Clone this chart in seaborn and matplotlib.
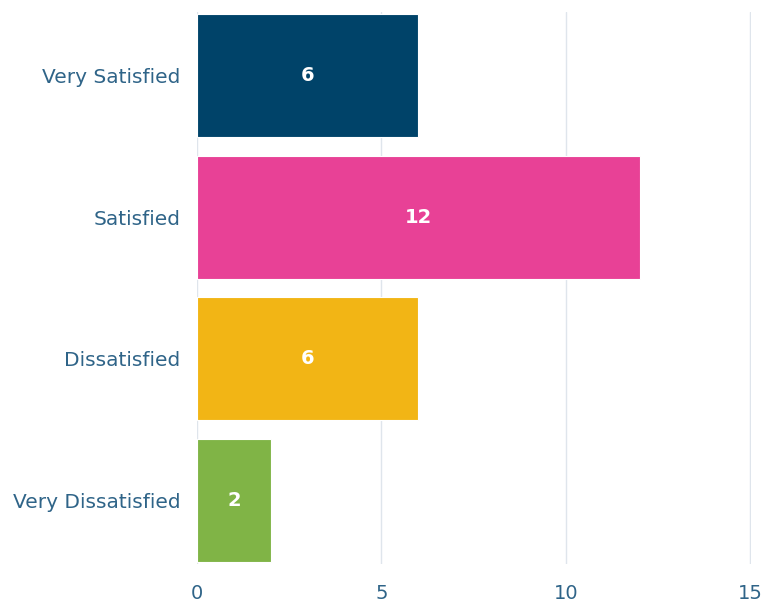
import matplotlib
matplotlib.use("Agg")
import matplotlib.pyplot as plt
import seaborn as sns
import pandas as pd

categories = ["Very Satisfied", "Satisfied", "Dissatisfied", "Very Dissatisfied"]
counts = [6, 12, 6, 2]
bar_colors = ["#004369", "#e84196", "#f2b515", "#80b446"]
x_ticks = [0, 5, 10, 15]

df = pd.DataFrame({"category": categories, "count": counts})

sns.set_theme(style="white")
plt.rcParams["font.family"] = ["DejaVu Sans"]

fig = plt.figure(figsize=(7.63, 6.03), dpi=100)
ax = fig.add_axes([0.2582, 0.0642, 0.7262, 0.9164])

sns.barplot(data=df, x="count", y="category", hue="category",
            palette=bar_colors, order=categories, hue_order=categories,
            orient="h", width=0.87, legend=False, ax=ax, zorder=3,
            saturation=1, edgecolor="#ffffff", linewidth=0.8)

for patch, value in zip(ax.patches, counts):
    cy = patch.get_y() + patch.get_height() / 2
    ax.text(value / 2, cy, str(value), ha="center", va="center",
            color="white", fontsize=14, fontweight="bold", zorder=4)

ax.set_xlim(0, 15.02)
ax.set_ylim(3.45, -0.45)
ax.set_xticks(x_ticks)
ax.set_xticklabels([str(t) for t in x_ticks])
ax.xaxis.grid(True, color="#dfe5ec", linewidth=1.0, zorder=0)
ax.yaxis.grid(False)
for spine in ax.spines.values():
    spine.set_visible(False)
ax.tick_params(axis="both", length=0, colors="#2f6488")
ax.tick_params(axis="y", pad=12, labelsize=14.5)
ax.tick_params(axis="x", pad=14, labelsize=14)
ax.set_xlabel("")
ax.set_ylabel("")

fig.savefig("out.png", dpi=100, facecolor="white")
